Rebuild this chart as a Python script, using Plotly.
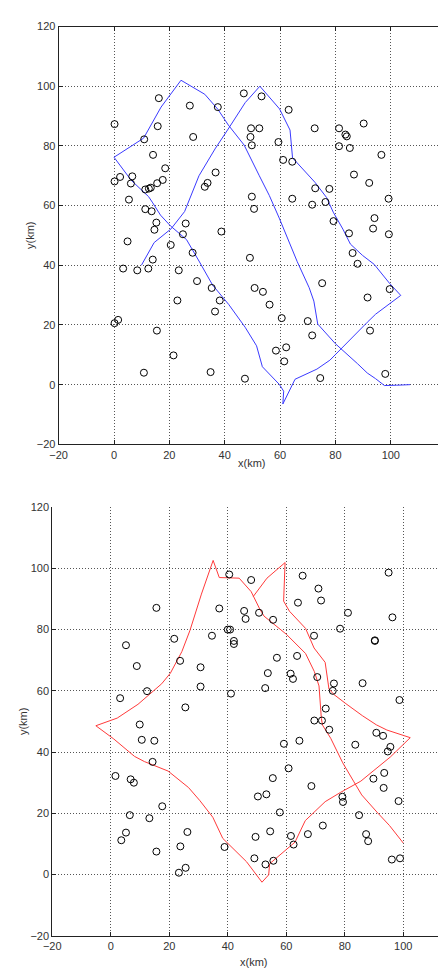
import plotly.graph_objects as go

# ---------------- data: top panel ----------------
top_pts_x = [0.2, 16.2, 27.4, 37.5, 46.9, 53.3, 63.1, 15.8, 10.9, 28.6,
             49.5, 52.5, 49.3, 49.8, 59.4, 72.5, 81.3, 83.6, 84.1, 81.3,
             85.2, 90.2, 96.6, 14.1, 61.1, 64.4, 86.7, 0.2, 2.2, 6.6,
             6.1, 18.5, 17.6, 15.6, 11.3, 12.6, 13.3, 36.7, 33.8, 32.8,
             92.2, 72.7, 77.8, 5.4, 49.8, 64.4, 71.6, 76.4, 99.2, 11.3,
             13.6, 50.6, 15.3, 14.6, 25.9, 24.9, 38.8, 4.9, 20.5, 28.4,
             49.1, 14.0, 3.3, 8.4, 12.4, 23.4, 30.0, 35.3, 50.8, 53.8,
             56.2, 38.2, 22.9, 36.5, 0.2, 1.5, 15.5, 60.6, 70.0, 71.6,
             75.2, 79.3, 84.9, 86.2, 88.0, 94.1, 93.6, 99.3, 99.6, 91.6,
             92.5, 21.5, 10.8, 34.9, 47.3, 58.5, 62.2, 61.5, 74.5, 98.0]
top_pts_y = [87.3, 96.0, 93.5, 93.0, 97.6, 96.6, 92.1, 86.6, 82.2, 83.0,
             85.9, 85.9, 83.0, 80.2, 81.3, 85.9, 85.9, 83.8, 83.2, 79.9,
             79.3, 87.5, 77.0, 77.0, 75.3, 74.7, 70.4, 68.1, 69.6, 69.8,
             67.4, 72.5, 68.6, 67.5, 65.4, 65.7, 66.0, 71.1, 67.6, 66.3,
             67.6, 65.8, 65.6, 62.0, 63.0, 62.3, 60.3, 61.2, 62.3, 58.8,
             58.1, 58.9, 54.3, 51.9, 54.0, 50.4, 51.3, 48.0, 46.8, 44.2,
             42.5, 41.9, 38.9, 38.3, 38.9, 38.3, 34.7, 32.4, 32.4, 31.1,
             26.8, 28.2, 28.2, 24.5, 20.6, 21.7, 18.1, 22.3, 21.3, 16.5,
             34.0, 54.8, 50.7, 44.1, 40.5, 55.8, 52.3, 50.4, 32.0, 29.2,
             18.1, 9.8, 4.0, 4.2, 2.0, 11.4, 12.5, 7.8, 2.2, 3.6]

top_path_x = [9.9, 14.5, 20.6, 23.0, 25.5, 30.7, 36.5, 41.5, 47.4, 52.7,
              59.8, 63.6, 64.5, 72.6, 76.8, 79.2, 82.7, 85.4, 89.8, 94.0,
              99.5, 103.6, 94.5, 91.5, 88.6, 78.0, 73.3, 65.4, 61.0, 61.3,
              59.8, 53.6, 51.5, 47.4, 41.5, 35.6, 30.9, 26.2, 20.4, 16.8,
              14.0, 12.5, 6.2, 0.0, 6.2, 10.7, 17.0, 24.2, 32.8, 37.5,
              41.3, 47.0, 52.5, 56.1, 59.7, 66.2, 70.5, 72.2, 73.6, 80.0,
              88.0, 91.5, 94.5, 97.7, 102.1, 107.0]
top_path_y = [40.0, 47.6, 52.2, 55.0, 58.0, 70.0, 79.0, 86.0, 94.5, 100.0,
              92.4, 85.3, 76.0, 67.8, 62.7, 57.8, 52.1, 47.1, 43.3, 40.3,
              34.0, 29.9, 23.6, 20.9, 18.1, 8.2, 5.2, 1.8, -6.5, -2.2,
              0.0, 6.0, 13.0, 19.2, 26.8, 33.4, 41.1, 48.6, 53.2, 56.8,
              60.9, 63.0, 68.5, 76.2, 79.9, 82.6, 93.0, 102.0, 97.3, 92.3,
              87.0, 80.3, 70.0, 63.4, 55.8, 41.2, 32.5, 28.0, 20.3, 13.7,
              7.0, 3.9, 2.0, -0.3, -0.2, 0.0]

# ---------------- data: bottom panel ----------------
bot_pts_x = [15.6, 5.2, 8.9, 12.4, 3.2, 21.7, 23.7, 25.5, 30.7, 30.7,
             34.6, 37.1, 40.5, 40.0, 40.8, 42.1, 42.1, 41.1, 48.0, 45.6,
             46.1, 50.7, 55.5, 56.8, 53.7, 52.8, 61.5, 62.3, 63.7, 65.6,
             64.0, 71.0, 71.9, 69.5, 70.6, 73.5, 69.6, 72.2, 76.3, 75.9,
             78.4, 81.1, 86.1, 90.3, 90.3, 95.0, 96.3, 98.7, 9.9, 10.6,
             14.9, 14.3, 1.6, 6.8, 7.9, 6.5, 13.2, 17.6, 5.2, 3.6,
             15.6, 23.8, 26.2, 23.3, 25.6, 38.9, 49.5, 49.1, 52.9, 55.6,
             54.5, 50.3, 53.2, 55.4, 57.8, 59.2, 60.8, 64.5, 61.6, 62.5,
             67.4, 68.6, 72.5, 74.7, 79.2, 79.4, 83.6, 84.9, 87.3, 88.0,
             89.8, 90.8, 93.1, 93.5, 93.3, 94.7, 95.6, 98.4, 96.1, 98.9]
bot_pts_y = [87.1, 74.9, 68.1, 59.9, 57.6, 77.0, 69.8, 54.6, 67.7, 61.4,
             78.0, 86.9, 98.0, 80.0, 80.0, 76.3, 75.3, 59.1, 96.2, 86.1,
             83.5, 85.5, 83.2, 70.8, 65.8, 60.9, 65.6, 63.9, 71.4, 97.6,
             88.8, 93.4, 89.5, 78.0, 64.5, 54.2, 50.3, 50.3, 62.4, 60.0,
             80.3, 85.5, 62.5, 76.3, 76.5, 98.6, 84.0, 57.0, 49.0, 44.0,
             43.7, 36.8, 32.2, 31.1, 30.0, 19.4, 18.4, 22.3, 13.7, 11.2,
             7.5, 9.2, 13.9, 0.6, 2.2, 9.0, 12.3, 5.3, 3.3, 4.5,
             14.1, 25.5, 26.2, 31.5, 20.3, 42.7, 34.7, 43.7, 12.6, 9.8,
             13.2, 28.9, 16.0, 47.3, 25.4, 23.7, 42.4, 19.4, 13.2, 10.9,
             31.3, 46.3, 45.3, 33.2, 28.3, 40.2, 41.7, 24.0, 4.9, 5.3]

bot_path_x = [100.0, 95.3, 91.0, 85.8, 83.0, 79.3, 75.2, 72.4, 72.0, 71.2,
              69.6, 66.6, 60.0, 52.4, 50.8, 48.0, 43.9, 37.1, 35.0, 31.0,
              27.1, 24.3, 20.4, 17.4, 9.3, 2.2, -5.1, 1.0, 8.1, 11.5,
              19.6, 26.6, 30.5, 34.9, 38.3, 46.4, 51.7, 54.0, 54.3, 58.5,
              63.0, 66.5, 73.3, 78.5, 85.5, 89.7, 95.6, 102.4, 94.4, 90.8,
              86.0, 80.4, 76.3, 74.6, 73.3, 69.5, 66.6, 61.1, 59.1, 59.6,
              53.4, 48.7]
bot_path_y = [10.3, 16.0, 20.4, 26.0, 30.5, 36.5, 44.5, 48.8, 51.0, 61.6,
              66.3, 72.2, 78.5, 84.4, 87.0, 92.4, 96.8, 97.0, 102.6, 91.6,
              79.8, 72.8, 65.8, 62.3, 55.6, 51.1, 48.6, 44.3, 38.6, 36.9,
              33.8, 28.4, 24.1, 18.7, 11.8, 4.2, -2.5, -0.1, 3.5, 6.9,
              10.6, 17.6, 23.8, 26.8, 30.5, 33.8, 38.4, 44.7, 47.2, 48.9,
              51.9, 55.8, 58.8, 60.6, 69.3, 74.0, 80.4, 86.0, 89.3, 101.9,
              96.8, 90.8]

x_ticks = [-20, 0, 20, 40, 60, 80, 100, 120]
y_ticks = [-20, 0, 20, 40, 60, 80, 100, 120]
x_label = "x(km)"
y_label = "y(km)"

# ---------------- figure ----------------
W, H = 446, 972
fig = go.Figure()

marker = dict(symbol="circle-open", size=7, color="black", line=dict(width=1, color="black"))

fig.add_trace(go.Scatter(x=top_path_x, y=top_path_y, mode="lines",
                         line=dict(color="#3a3aff", width=1), xaxis="x", yaxis="y",
                         showlegend=False, hoverinfo="skip"))
fig.add_trace(go.Scatter(x=top_pts_x, y=top_pts_y, mode="markers", marker=marker,
                         xaxis="x", yaxis="y", showlegend=False))
fig.add_trace(go.Scatter(x=bot_path_x, y=bot_path_y, mode="lines",
                         line=dict(color="#ff3a3a", width=1), xaxis="x2", yaxis="y2",
                         showlegend=False, hoverinfo="skip"))
fig.add_trace(go.Scatter(x=bot_pts_x, y=bot_pts_y, mode="markers", marker=marker,
                         xaxis="x2", yaxis="y2", showlegend=False))

tickfont = dict(family="Liberation Sans Narrow, Liberation Sans, Arial", size=11, color="#333333")
grid = dict(showgrid=True, gridcolor="#555555", gridwidth=1, griddash="1px,2px",
            zeroline=False, ticks="inside", ticklen=4, tickcolor="#222222",
            tickfont=tickfont, linecolor="#222222", linewidth=1, showline=True)

# pixel geometry
t_l, t_r, t_t, t_b = 42.5, 438.0, 12.7, 435.7
b_l, b_t, b_b = 36.0, 499.3, 933.3
b_xmax = -20 + (W - b_l) / (59.7 / 20.0)

fig.update_layout(
    width=W, height=H, autosize=False,
    margin=dict(l=0, r=0, t=0, b=0),
    paper_bgcolor="white", plot_bgcolor="white",
    xaxis=dict(domain=[t_l / W, t_r / W], range=[-20, 120], tickvals=x_ticks,
               anchor="y", mirror="allticks", **grid),
    yaxis=dict(domain=[1 - t_b / H, 1 - t_t / H], range=[-20, 120], tickvals=y_ticks,
               anchor="x", mirror="allticks", **grid),
    xaxis2=dict(domain=[b_l / W, 1.0], range=[-20, b_xmax], tickvals=x_ticks,
                anchor="y2", mirror=False, **grid),
    yaxis2=dict(domain=[1 - b_b / H, 1 - b_t / H], range=[-20, 120], tickvals=y_ticks,
                anchor="x2", mirror=False, **grid),
    annotations=[
        dict(text=x_label, x=(t_l + t_r) / 2 / W, y=1 - 455 / H, xref="paper", yref="paper",
             showarrow=False, font=tickfont, xanchor="center", yanchor="middle"),
        dict(text=y_label, x=14 / W, y=1 - 224 / H, xref="paper", yref="paper",
             showarrow=False, font=tickfont, textangle=-90, xanchor="center", yanchor="middle"),
        dict(text=x_label, x=242 / W, y=1 - 960 / H, xref="paper", yref="paper",
             showarrow=False, font=tickfont, xanchor="center", yanchor="middle"),
        dict(text=y_label, x=6 / W, y=1 - 716 / H, xref="paper", yref="paper",
             showarrow=False, font=tickfont, textangle=-90, xanchor="center", yanchor="middle"),
    ],
)

fig.write_html("out.html")
